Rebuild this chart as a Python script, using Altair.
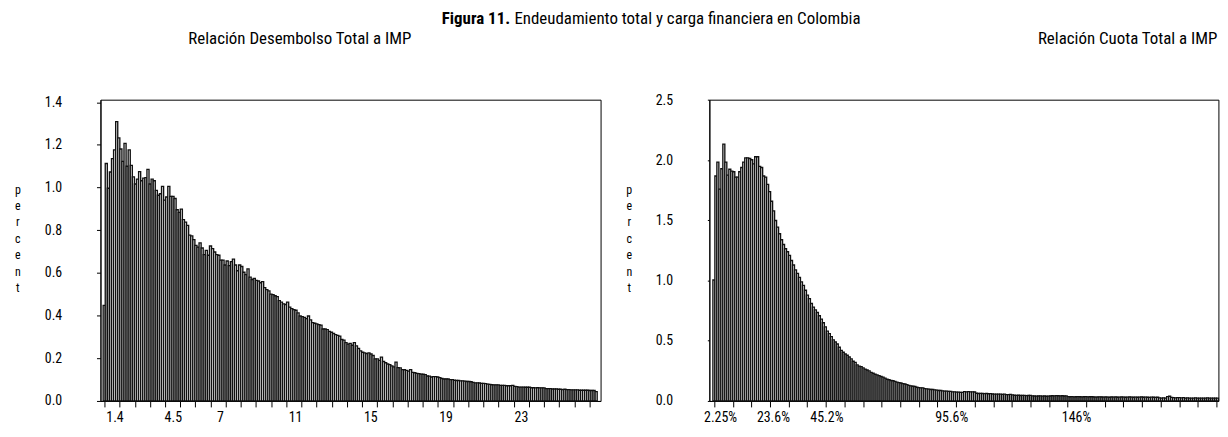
import altair as alt
import pandas as pd

FONT = "Roboto Condensed, Liberation Sans Narrow, Liberation Sans, Arial"

# ---------------- data: left histogram (Relación Desembolso Total a IMP), percent per bin
left_pct = [
    0.448, 1.113, 0.997, 1.073, 1.136, 1.177, 1.309, 1.233, 1.181, 1.123,
    1.207, 1.100, 1.177, 1.104, 1.050, 1.017, 1.040, 1.075, 1.032, 1.044,
    1.047, 1.085, 1.017, 1.040, 1.032, 0.987, 0.964, 0.971, 1.006, 0.941,
    0.956, 1.006, 0.959, 0.959, 0.949, 0.896, 0.884, 0.899, 0.850, 0.838,
    0.823, 0.777, 0.774, 0.756, 0.729, 0.721, 0.741, 0.717, 0.686, 0.706,
    0.683, 0.726, 0.714, 0.698, 0.686, 0.683, 0.660, 0.660, 0.637, 0.656,
    0.634, 0.653, 0.665, 0.637, 0.610, 0.637, 0.630, 0.603, 0.592, 0.619,
    0.580, 0.569, 0.574, 0.565, 0.562, 0.554, 0.559, 0.531, 0.522, 0.516,
    0.501, 0.498, 0.493, 0.489, 0.470, 0.463, 0.455, 0.452, 0.463, 0.440,
    0.433, 0.428, 0.425, 0.413, 0.398, 0.395, 0.392, 0.386, 0.398, 0.380,
    0.367, 0.364, 0.361, 0.358, 0.355, 0.337, 0.337, 0.334, 0.326, 0.322,
    0.316, 0.311, 0.307, 0.304, 0.288, 0.285, 0.273, 0.266, 0.270, 0.261,
    0.273, 0.258, 0.246, 0.235, 0.228, 0.225, 0.222, 0.225, 0.220, 0.213,
    0.197, 0.197, 0.190, 0.205, 0.185, 0.179, 0.173, 0.170, 0.164, 0.160,
    0.182, 0.156, 0.155, 0.147, 0.146, 0.143, 0.140, 0.147, 0.134, 0.132,
    0.129, 0.128, 0.126, 0.125, 0.123, 0.117, 0.116, 0.112, 0.114, 0.114,
    0.112, 0.109, 0.105, 0.103, 0.103, 0.103, 0.100, 0.100, 0.097, 0.096,
    0.096, 0.094, 0.094, 0.093, 0.091, 0.091, 0.090, 0.087, 0.085, 0.085,
    0.084, 0.082, 0.082, 0.081, 0.079, 0.078, 0.076, 0.075, 0.075, 0.075,
    0.073, 0.073, 0.073, 0.071, 0.071, 0.071, 0.073, 0.068, 0.067, 0.065,
    0.065, 0.065, 0.064, 0.064, 0.064, 0.062, 0.062, 0.061, 0.062, 0.061,
    0.061, 0.061, 0.058, 0.058, 0.058, 0.056, 0.056, 0.056, 0.055, 0.055,
    0.053, 0.055, 0.053, 0.053, 0.052, 0.052, 0.052, 0.052, 0.050, 0.050,
    0.050, 0.050, 0.050, 0.049, 0.049, 0.049, 0.044,
]
left_range = [0.771, 27.03]
left_label_vals = [1.4, 4.5, 7, 11, 15, 19, 23]
left_label_text = ["1.4", "4.5", "7", "11", "15", "19", "23"]
left_y_ticks = [0.0, 0.2, 0.4, 0.6, 0.8, 1.0, 1.2, 1.4]

# ---------------- data: right histogram (Relación Cuota Total a IMP), percent per bin
right_pct = [
    1.005, 1.870, 1.985, 1.760, 1.930, 2.134, 1.985, 1.877, 1.926, 1.910,
    1.905, 1.860, 1.860, 1.905, 1.940, 1.985, 2.020, 2.020, 2.015, 2.005,
    1.970, 2.030, 2.030, 1.950, 1.940, 1.870, 1.860, 1.800, 1.740, 1.660,
    1.580, 1.500, 1.445, 1.390, 1.340, 1.300, 1.265, 1.240, 1.210, 1.167,
    1.130, 1.090, 1.060, 1.027, 0.990, 0.960, 0.920, 0.880, 0.850, 0.810,
    0.780, 0.757, 0.735, 0.708, 0.680, 0.650, 0.616, 0.580, 0.560, 0.535,
    0.508, 0.490, 0.473, 0.446, 0.420, 0.405, 0.390, 0.380, 0.365, 0.350,
    0.330, 0.320, 0.300, 0.290, 0.285, 0.275, 0.265, 0.257, 0.250, 0.238,
    0.230, 0.222, 0.216, 0.210, 0.203, 0.198, 0.190, 0.180, 0.176, 0.170,
    0.168, 0.163, 0.157, 0.152, 0.149, 0.144, 0.141, 0.136, 0.130, 0.125,
    0.122, 0.120, 0.114, 0.111, 0.108, 0.108, 0.103, 0.100, 0.098, 0.095,
    0.095, 0.092, 0.090, 0.087, 0.087, 0.084, 0.081, 0.081, 0.079, 0.079,
    0.076, 0.076, 0.073, 0.073, 0.071, 0.071,
    0.078, 0.076, 0.077, 0.075, 0.076, 0.074,
    0.064, 0.062, 0.063, 0.062, 0.061, 0.062, 0.060, 0.061,
    0.058, 0.057, 0.057, 0.056, 0.057, 0.055, 0.056,
    0.053, 0.052, 0.054, 0.051,
    0.047, 0.046, 0.047, 0.045, 0.046, 0.046, 0.044, 0.045, 0.046,
    0.042, 0.041, 0.040, 0.041, 0.042, 0.040, 0.041, 0.039, 0.040, 0.041,
    0.043, 0.042, 0.044, 0.043, 0.042, 0.043, 0.041, 0.042,
    0.036, 0.035, 0.036, 0.034, 0.035, 0.036, 0.035, 0.034, 0.035, 0.036,
    0.034, 0.035, 0.035,
    0.033, 0.032, 0.033, 0.034, 0.033, 0.032, 0.033, 0.032, 0.031, 0.033,
    0.032, 0.033, 0.031, 0.032, 0.033, 0.032, 0.031, 0.032, 0.033, 0.032,
    0.031, 0.032, 0.031, 0.032, 0.033, 0.031, 0.032, 0.031, 0.030, 0.032,
    0.031, 0.030, 0.031,
    0.025, 0.024, 0.025, 0.024,
    0.036, 0.039, 0.030,
    0.027, 0.026, 0.028, 0.027, 0.026, 0.027,
    0.024, 0.025, 0.024, 0.023, 0.024, 0.025, 0.023, 0.024, 0.024, 0.023,
    0.024, 0.025, 0.023, 0.024, 0.023, 0.024, 0.023,
]
right_range = [-0.84, 203.3]
right_label_vals = [2.25, 23.6, 45.2, 95.6, 146]
right_label_text = ["2.25%", "23.6%", "45.2%", "95.6%", "146%"]
right_y_ticks = [0.0, 0.5, 1.0, 1.5, 2.0, 2.5]

title_bold = "Figura 11."
title_rest = "Endeudamiento total y carga financiera en Colombia"
sub_left = "Relación Desembolso Total a IMP"
sub_right = "Relación Cuota Total a IMP"
y_title = ["p", "e", "r", "c", "e", "n", "t"]


def bins_frame(vals, rng):
    lo, hi = rng
    w = (hi - lo) / len(vals)
    return pd.DataFrame({
        "x0": [lo + i * w for i in range(len(vals))],
        "x1": [lo + (i + 1) * w for i in range(len(vals))],
        "pct": vals,
    })


H = 303


def panel(vals, rng, xdom, ydom, yticks, xticks, lab_vals, lab_text, W,
          ytick_size, title_x, texts):
    df = bins_frame(vals, rng)
    xs = alt.Scale(domain=xdom, nice=False, zero=False)
    ys = alt.Scale(domain=ydom, nice=False, zero=False)
    xaxis = alt.Axis(values=xticks, labels=False, title=None, tickSize=6,
                     tickColor="black", domainColor="black", grid=False)
    bars = alt.Chart(df).mark_bar(
        fill="#f4f4f4", stroke="#111111", strokeWidth=1.35
    ).encode(
        x=alt.X("x0:Q", scale=xs, axis=xaxis),
        x2="x1:Q",
        y=alt.Y("pct:Q", scale=ys, axis=alt.Axis(
            values=yticks, format=".1f", grid=False, tickSize=ytick_size,
            tickColor="black", domainColor="black", labelPadding=35,
            labelFont=FONT, labelFontSize=14, labelColor="black",
            title=y_title, titleAngle=0, titleFont=FONT, titleFontSize=12,
            titleFontWeight="normal", titleColor="black", titleLineHeight=16.5,
            titleAlign="center", titleBaseline="middle",
            titleX=title_x, titleY=90)),
        y2=alt.datum(0),
    )
    lab_df = pd.DataFrame({"v": lab_vals, "t": lab_text})
    labels = alt.Chart(lab_df).mark_text(
        font=FONT, fontSize=14, baseline="middle", color="black"
    ).encode(x=alt.X("v:Q", scale=xs, axis=xaxis), y=alt.value(H + 17), text="t:N")
    layers = [bars, labels]
    for (txt, px, py, align, weight, fs) in texts:
        tdf = pd.DataFrame({"t": [txt]})
        layers.append(alt.Chart(tdf).mark_text(
            font=FONT, fontSize=fs, align=align, baseline="alphabetic",
            fontWeight=weight, color="black"
        ).encode(x=alt.value(px), y=alt.value(py), text="t:N"))
    return alt.layer(*layers).properties(width=W, height=H)


left_ticks = [0.84 + 0.8057 * k for k in range(33)]
right_ticks = [-0.28 + 7.51 * k for k in range(28)]

RW = 512
left = panel(left_pct, left_range, [0.628, 27.21], [0, 1.412], left_y_ticks,
             left_ticks, left_label_vals, left_label_text, 503, 4, -83.6,
             [(title_bold, 412, -75.7, "right", "bold", 17),
              (title_rest, 416.3, -75.7, "left", "normal", 17),
              (sub_left, 200.5, -56.2, "center", "normal", 17)])
right = panel(right_pct, right_range, [-2.27, 203.3], [0, 2.504], right_y_ticks,
              right_ticks, right_label_vals, right_label_text, RW, 2, -81,
              [(sub_right, RW - 1, -56.2, "right", "normal", 17)])

chart = alt.hconcat(left, right, spacing=109.4, bounds="flush").properties(
    padding={"left": 5, "top": 0, "right": 0, "bottom": 0},
    background="white",
).configure_view(stroke="black", strokeWidth=1)

chart.save("out.html", embed_options={"renderer": "svg", "actions": False})
